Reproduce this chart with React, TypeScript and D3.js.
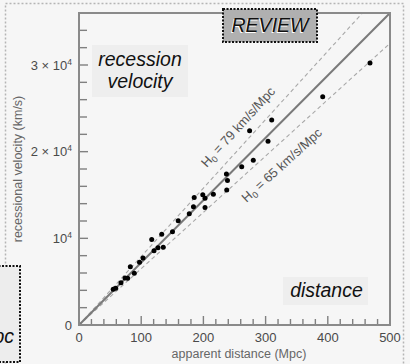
import React from "react";
import * as d3 from "d3";

const distances = [55, 59, 67.5, 74, 78.3, 82.5, 88.9, 97.3, 102.9, 116.9, 120.6, 127, 133, 135.5, 150.3, 159.5, 177.3, 184, 185.2, 199, 202.6, 202.6, 216, 237, 238.7, 237.5, 261.6, 274.3, 309.8, 303.9, 280.2, 391.8, 467.8];
const velocities = [4120, 4240, 4880, 5420, 5390, 6730, 5970, 7230, 7730, 9860, 8570, 8920, 10460, 8980, 10770, 12020, 12840, 13640, 14710, 15030, 14620, 13560, 15080, 17420, 16670, 15580, 18250, 22420, 23650, 21210, 19000, 26330, 30230];
const xTickLabels = ["0", "100", "200", "300", "400", "500"];
const xTickValues = [0, 100, 200, 300, 400, 500];
const yTickValues = [0, 10000, 20000, 30000];
const yTickMantissa = ["0", "", "2 × ", "3 × "];
const fitH0 = 72;
const boundH0 = [79, 65];

const W = 410;
const H = 364;
const FONT = "'Liberation Sans', Arial, Helvetica, sans-serif";

export default function App() {
  const x = d3.scaleLinear().domain([0, 500]).range([79, 390]);
  const y = d3.scaleLinear().domain([0, 36000]).range([325, 13]);
  const [x0, x1] = x.range();
  const [y0, y1] = y.range();

  const lineGen = d3
    .line<[number, number]>()
    .x((d) => x(d[0]))
    .y((d) => y(d[1]));

  const lineEnd = (h: number): [number, number][] => {
    const xmax = Math.min(500, 36000 / h);
    return [
      [0, 0],
      [xmax, h * xmax],
    ];
  };

  const angleOf = (h: number) => {
    const dx = x(100) - x(0);
    const dy = y(0) - y(100 * h);
    return (-Math.atan2(dy, dx) * 180) / Math.PI;
  };

  const xMinor = d3.range(0, 501, 20);
  const yMinor = d3.range(0, 36001, 2000);

  const labelSpecs = [
    { h: boundH0[0], at: 274, dy: -11, text: "79" },
    { h: boundH0[1], at: 307, dy: 22, text: "65" },
  ];

  return (
    <svg
      width={W}
      height={H}
      style={{ position: "absolute", left: 0, top: 0, fontFamily: FONT }}
    >
      <rect x={0} y={0} width={W} height={H} fill="#f6f6f6" />
      {/* outer dotted frame */}
      <rect
        x={5.5}
        y={3.5}
        width={398}
        height={372}
        fill="none"
        stroke="#b5b5b5"
        strokeWidth={1.5}
        strokeDasharray="2,2"
      />

      {/* annotation boxes */}
      <rect x={92} y={45} width={96} height={52} fill="#eeeeee" />
      <text x={140} y={66} textAnchor="middle" fontSize={19.5} fontStyle="italic" fill="#111">
        recession
      </text>
      <text x={140} y={88} textAnchor="middle" fontSize={19.5} fontStyle="italic" fill="#111">
        velocity
      </text>
      <rect x={283} y={277} width={85} height={28} fill="#eeeeee" />
      <text x={326.5} y={297} textAnchor="middle" fontSize={19.5} fontStyle="italic" fill="#111">
        distance
      </text>

      {/* dashed bound lines */}
      {boundH0.map((h) => (
        <path
          key={h}
          d={lineGen(lineEnd(h)) || ""}
          fill="none"
          stroke="#a8a8a8"
          strokeWidth={1.1}
          strokeDasharray="4,3"
        />
      ))}
      {/* fit line */}
      <path d={lineGen(lineEnd(fitH0)) || ""} fill="none" stroke="#7a7a7a" strokeWidth={2} />

      {/* line labels */}
      {labelSpecs.map((s) => (
        <g
          key={s.text}
          transform={`translate(${x(s.at)},${y(s.h * s.at)}) rotate(${angleOf(s.h)})`}
        >
          <text y={s.dy} textAnchor="middle" fontSize={13} fill="#555">
            H
            <tspan fontSize={9} dy={3}>
              0
            </tspan>
            <tspan dy={-3}> = {s.text} km/s/Mpc</tspan>
          </text>
        </g>
      ))}

      {/* points */}
      {distances.map((d, i) => (
        <circle key={i} cx={x(d)} cy={y(velocities[i])} r={2.5} fill="#000" />
      ))}

      {/* ticks */}
      {xMinor.map((t) => {
        const major = t % 100 === 0;
        return (
          <line
            key={"xt" + t}
            x1={x(t)}
            x2={x(t)}
            y1={y0}
            y2={y0 - (major ? 9 : 6)}
            stroke="#808080"
            strokeWidth={1.4}
          />
        );
      })}
      {yMinor.map((t) => {
        const major = t % 10000 === 0;
        return (
          <line
            key={"yt" + t}
            x1={x0}
            x2={x0 + (major ? 9 : 8)}
            y1={y(t)}
            y2={y(t)}
            stroke="#808080"
            strokeWidth={1.4}
          />
        );
      })}

      {/* frame */}
      <rect
        x={x0}
        y={y1}
        width={x1 - x0}
        height={y0 - y1}
        fill="none"
        stroke="#8a8a8a"
        strokeWidth={2}
      />

      {/* tick labels */}
      {xTickValues.map((t, i) => (
        <text key={"xl" + t} x={x(t)} y={342} textAnchor="middle" fontSize={13} fill="#4a4a4a">
          {xTickLabels[i]}
        </text>
      ))}
      {yTickValues.map((t, i) => (
        <text key={"yl" + t} x={72} y={y(t) + 4.5} textAnchor="end" fontSize={13} fill="#4a4a4a">
          {t === 0 ? (
            "0"
          ) : (
            <>
              {yTickMantissa[i]}10
              <tspan fontSize={8.5} dy={-5}>
                4
              </tspan>
            </>
          )}
        </text>
      ))}

      {/* axis titles */}
      <text x={239} y={358} textAnchor="middle" fontSize={12.5} fill="#666">
        apparent distance (Mpc)
      </text>
      <text
        transform={`translate(22,${(y0 + y1) / 2}) rotate(-90)`}
        textAnchor="middle"
        fontSize={12.5}
        fill="#666"
      >
        recessional velocity (km/s)
      </text>

      {/* REVIEW badge */}
      <rect
        x={223}
        y={9}
        width={94}
        height={33}
        fill="#b0b0b0"
        stroke="#111"
        strokeWidth={2}
        strokeDasharray="2,1.5"
      />
      <text x={269} y={33} textAnchor="middle" fontSize={19.5} fontStyle="italic" fill="#fff">
        REVIEW
      </text>
      <text x={270} y={32} textAnchor="middle" fontSize={19.5} fontStyle="italic" fill="#111">
        REVIEW
      </text>

      {/* lower-left cut box */}
      <rect
        x={-5}
        y={266}
        width={25}
        height={96}
        fill="#ededed"
        stroke="#111"
        strokeWidth={2}
        strokeDasharray="2,1.5"
      />
      <text x={14} y={343} textAnchor="end" fontSize={19.5} fontStyle="italic" fill="#111">
        Mpc
      </text>
    </svg>
  );
}
